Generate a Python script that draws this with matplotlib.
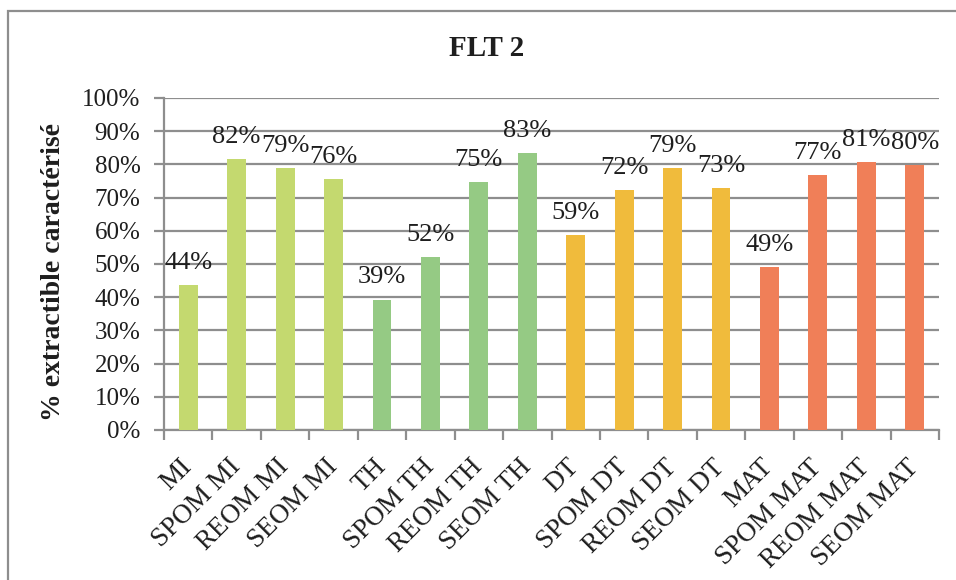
import numpy as np
import matplotlib
matplotlib.use("Agg")
import matplotlib.pyplot as plt
from matplotlib.patches import Rectangle
from matplotlib.ticker import PercentFormatter

# ======== données ========
categories = ["MI", "SPOM MI", "REOM MI", "SEOM MI",
              "TH", "SPOM TH", "REOM TH", "SEOM TH",
              "DT", "SPOM DT", "REOM DT", "SEOM DT",
              "MAT", "SPOM MAT", "REOM MAT", "SEOM MAT"]
values = [43.6, 81.6, 78.8, 75.6,
          39.3, 52.2, 74.6, 83.4,
          58.8, 72.3, 79.0, 72.9,
          49.2, 76.8, 80.8, 79.8]
group_colors = ["#C4D96F", "#95CA84", "#F0BB3C", "#F07F58"]
colors = [c for c in group_colors for _ in range(4)]

title = "FLT 2"
ylabel = "% extractible caractérisé"

plt.rcParams["font.family"] = ["Liberation Serif", "DejaVu Serif"]
grid_col = "#8E8E8E"
txt_col = "#1E1E1E"

fig = plt.figure(figsize=(9.56, 5.8), dpi=100)
ax = fig.add_axes([164 / 956, 1 - 430 / 580, (939 - 164) / 956, (430 - 98) / 580])

x = np.arange(len(categories))
ax.bar(x, values, width=0.39, color=colors, zorder=3)

# étiquettes de données
for xi, v in zip(x, values):
    ax.annotate(f"{v:.0f}%", (xi, v), xytext=(0, 8), textcoords="offset points",
                ha="center", va="bottom", fontsize=19, color=txt_col, zorder=4)

ax.set_xlim(-0.5, len(categories) - 0.5)
ax.set_ylim(0, 100)
ax.set_yticks(np.arange(0, 101, 10))
ax.yaxis.set_major_formatter(PercentFormatter(decimals=0))
ax.grid(axis="y", color=grid_col, linewidth=1.6, zorder=0)

ax.set_xticks(np.arange(-0.5, len(categories), 1.0), minor=False)
ax.set_xticklabels([])
ax.set_xticks(x, minor=True)
ax.set_xticklabels(categories, minor=True, rotation=45, ha="right", va="center",
                   rotation_mode="anchor", fontsize=19.5, color=txt_col)
ax.tick_params(axis="x", which="minor", length=0, pad=24)
ax.tick_params(axis="x", which="major", length=7, width=1.6, color=grid_col)
ax.tick_params(axis="y", length=7, width=1.6, color=grid_col, labelsize=18,
               labelcolor=txt_col, pad=10)

for s in ["top", "right"]:
    ax.spines[s].set_visible(False)
for s in ["left", "bottom"]:
    ax.spines[s].set_color(grid_col)
    ax.spines[s].set_linewidth(1.6)

ax.set_ylabel(ylabel, fontsize=20, fontweight="bold", color=txt_col)
ax.yaxis.set_label_coords(-0.126, 0.476)
fig.text(487 / 956, 1 - 49 / 580, title, ha="center", va="center",
         fontsize=21, fontweight="bold", color=txt_col)

# cadre extérieur
fig.patches.append(Rectangle((7.5 / 956, -0.1), 1.2, 1 - 11 / 580 + 0.1,
                             transform=fig.transFigure, fill=False,
                             edgecolor=grid_col, linewidth=1.6))

fig.savefig("out.png", dpi=100)
